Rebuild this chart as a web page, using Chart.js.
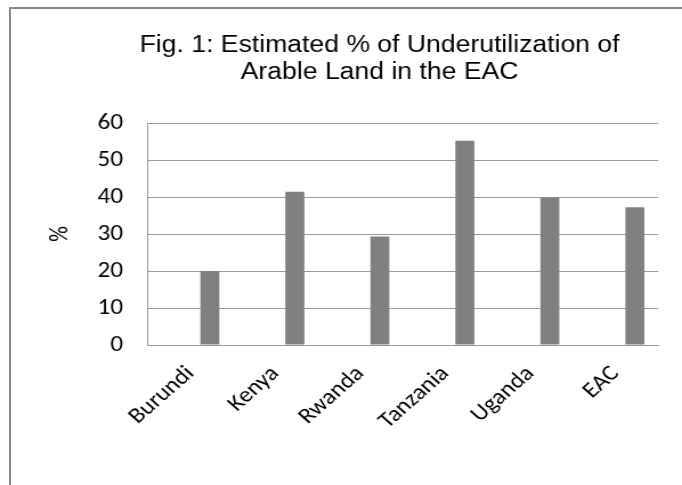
<!DOCTYPE html>
<html><head><meta charset="utf-8">
<script src="https://cdn.jsdelivr.net/npm/chart.js@4"></script>
<style>
html,body{margin:0;padding:0;background:#fff;overflow:hidden;width:682px;height:485px;}
#wrap{position:absolute;left:0;top:0;width:598px;height:485px;transform:scaleX(1.14047);transform-origin:0 0;}
#frame{position:absolute;left:9px;top:7px;width:720px;height:520px;border-left:2px solid #8a8a8a;border-top:2px solid #8a8a8a;pointer-events:none;}
</style></head><body>
<div id="wrap"><canvas id="c"></canvas></div>
<div id="frame"></div>
<script>
const categories = ['Burundi', 'Kenya', 'Rwanda', 'Tanzania', 'Uganda', 'EAC'];
const underutilization = [20, 41.4, 29.3, 55.2, 39.8, 37.2];
const emptySeries = [null, null, null, null, null, null];
const yTicks = [0, 10, 20, 30, 40, 50, 60];
const titleLines = ['Fig. 1: Estimated % of Underutilization of', 'Arable Land in the EAC'];
const yAxisTitle = '%';

const labelFont = { family: 'Carlito, Calibri, Lato, "Open Sans", sans-serif', size: 22 };

const figTitle = {
  id: 'figTitle',
  afterDraw(chart) {
    const ctx = chart.ctx;
    ctx.save();
    ctx.font = '23.3px "Liberation Sans", Arial, sans-serif';
    ctx.fillStyle = '#000';
    ctx.textAlign = 'center';
    ctx.textBaseline = 'alphabetic';
    ctx.fillText(titleLines[0], 332.8, 52);
    ctx.fillText(titleLines[1], 332.8, 78.5);
    ctx.restore();
  }
};

new Chart(document.getElementById('c'), {
  type: 'bar',
  data: {
    labels: categories,
    datasets: [
      { label: 'blank', data: emptySeries, backgroundColor: '#808080' },
      { label: 'Underutilization', data: underutilization, backgroundColor: '#808080' }
    ]
  },
  options: {
    responsive: true,
    maintainAspectRatio: false,
    animation: false,
    devicePixelRatio: 1,
    categoryPercentage: 0.908,
    barPercentage: 0.492,
    layout: { padding: { left: 40, right: 21, top: 123, bottom: 0 } },
    plugins: { legend: { display: false }, tooltip: { enabled: false }, title: { display: false } },
    scales: {
      x: {
        grid: { display: false, drawTicks: false },
        border: { display: true, color: '#999', width: 1 },
        ticks: { color: '#000', font: labelFont, minRotation: 45, maxRotation: 45, padding: 16, autoSkip: false },
        afterFit: s => { s.height = 140; }
      },
      y: {
        min: 0, max: 60,
        afterBuildTicks: s => { s.ticks = yTicks.map(v => ({ value: v })); },
        grid: { color: '#999', lineWidth: 1, drawTicks: false },
        border: { display: true, color: '#999', width: 1 },
        ticks: { color: '#000', font: labelFont, padding: 22 },
        title: { display: true, text: yAxisTitle, color: '#000', font: labelFont, padding: 0 },
        afterFit: s => { s.width = 89.8; }
      }
    }
  },
  plugins: [figTitle]
});
</script>
</body></html>
